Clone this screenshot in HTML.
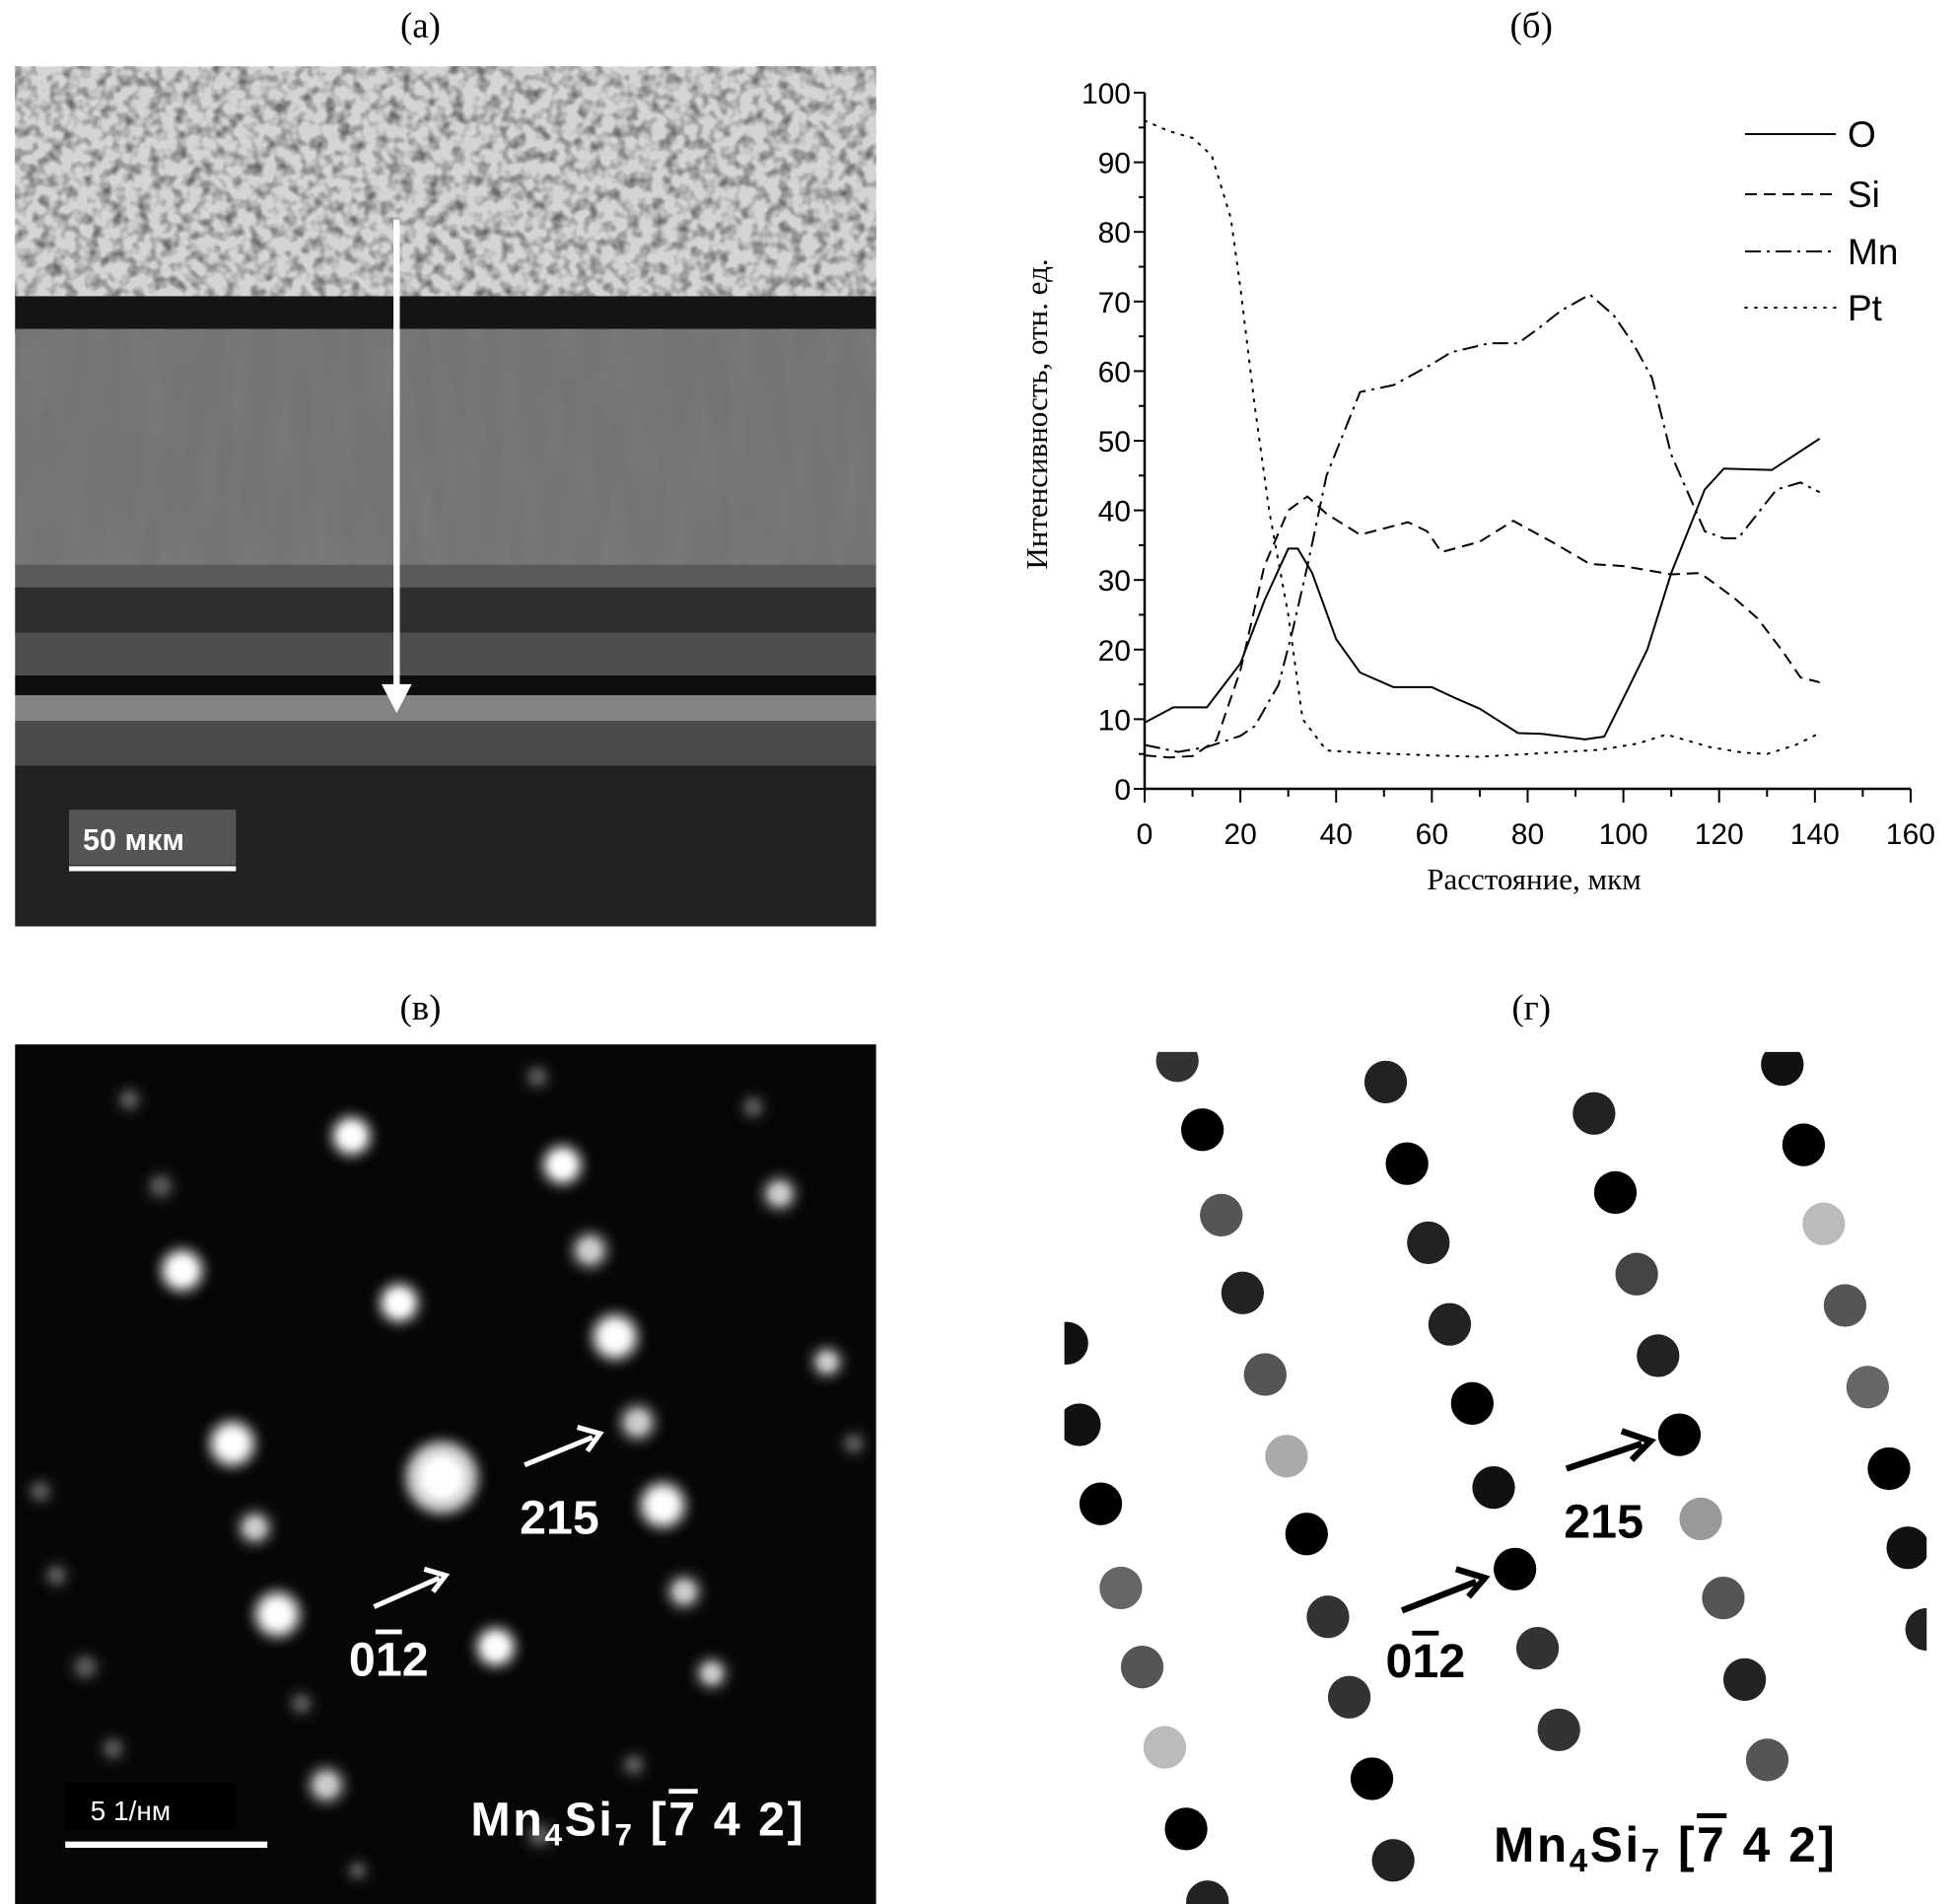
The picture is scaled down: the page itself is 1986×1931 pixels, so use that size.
<!DOCTYPE html>
<html><head><meta charset="utf-8"><style>
html,body{margin:0;padding:0;background:#fff}
svg{display:block}
</style></head><body>
<svg id="s" width="1986" height="1931" viewBox="0 0 1986 1931" xmlns="http://www.w3.org/2000/svg">
<defs>
<filter id="gran" x="0" y="0" width="100%" height="100%">
<feTurbulence type="fractalNoise" baseFrequency="0.1" numOctaves="2" seed="3"/>
<feColorMatrix type="matrix" values="0 0 0 0 0.15  0 0 0 0 0.15  0 0 0 0 0.15  0 0 0 2.4 -1.0"/>
</filter>
<filter id="fib" x="0" y="0" width="100%" height="100%">
<feTurbulence type="fractalNoise" baseFrequency="0.06 0.012" numOctaves="2" seed="5"/>
<feColorMatrix type="matrix" values="0 0 0 0 0.2  0 0 0 0 0.2  0 0 0 0 0.2  0 0 0 1.4 -0.5"/>
</filter>
<filter id="blur3" x="-100%" y="-100%" width="300%" height="300%"><feGaussianBlur stdDeviation="3"/></filter>
<filter id="blur5" x="-100%" y="-100%" width="300%" height="300%"><feGaussianBlur stdDeviation="5"/></filter>
<clipPath id="cpd"><rect x="848" y="838" width="687" height="693"/></clipPath>
</defs>

<g transform="scale(1.2731)" font-family="Liberation Serif, serif">
<text x="335" y="30" font-size="29" text-anchor="middle">(а)</text>
<text x="1220" y="30" font-size="29" text-anchor="middle">(б)</text>
<text x="335" y="812" font-size="29" text-anchor="middle">(в)</text>
<text x="1220" y="812" font-size="29" text-anchor="middle">(г)</text>

<rect x="12" y="53" width="686" height="187" fill="#d4d4d4"/>
<rect x="12" y="53" width="686" height="187" filter="url(#gran)"/>
<rect x="12" y="236" width="686" height="30" fill="#151515"/>
<rect x="12" y="262" width="686" height="190" fill="#747474"/>
<rect x="12" y="262" width="686" height="190" filter="url(#fib)"/>
<rect x="12" y="450" width="686" height="20" fill="#5a5a5a"/>
<rect x="12" y="468" width="686" height="38" fill="#2e2e2e"/>
<rect x="12" y="504" width="686" height="34" fill="#4e4e4e"/>
<rect x="12" y="538" width="686" height="16" fill="#0e0e0e"/>
<rect x="12" y="554" width="686" height="20" fill="#838383"/>
<rect x="12" y="574" width="686" height="38" fill="#4a4a4a"/>
<rect x="12" y="610" width="686" height="128" fill="#222"/>
<line x1="316" y1="175" x2="316" y2="548" stroke="#fff" stroke-width="5"/>
<polygon points="304,545 328,545 316,568" fill="#fff"/>
<rect x="55" y="645" width="133" height="44" fill="#555"/>
<text x="66" y="677" font-family="Liberation Sans, sans-serif" font-weight="bold" font-size="24" fill="#fff">50 мкм</text>
<rect x="55" y="690" width="133" height="4" fill="#fff"/>

<rect x="12" y="832" width="686" height="690" fill="#060606"/>
<g fill="#fff" id="spots"></g>
<g stroke="#fff" stroke-width="4" fill="none">
<line x1="298" y1="1280" x2="350" y2="1257"/><polyline points="338,1250 355,1255 345,1268"/>
<line x1="418" y1="1167" x2="472" y2="1145"/><polyline points="460,1137 478,1142 468,1156"/>
</g>
<g font-family="Liberation Sans, sans-serif" font-weight="bold" fill="#fff">
<text x="414" y="1222" font-size="38">215</text>
<text x="278" y="1335" font-size="38">0<tspan style="text-decoration:overline">1</tspan>2</text>
<rect x="52" y="1420" width="136" height="38" fill="#000"/>
<text x="72" y="1450" font-size="22" font-weight="normal">5 1/нм</text>
<rect x="52" y="1467" width="161" height="5"/>
<text x="375" y="1462" font-size="38" letter-spacing="2">Mn<tspan font-size="25" dy="8">4</tspan><tspan dy="-8">Si</tspan><tspan font-size="25" dy="8">7</tspan><tspan dy="-8"> [</tspan><tspan style="text-decoration:overline">7</tspan> 4 2]</text>
</g>

<g clip-path="url(#cpd)" id="dots"></g>
<g stroke="#000" stroke-width="5" fill="none">
<line x1="1248" y1="1170" x2="1308" y2="1150"/><polyline points="1292,1140 1315,1148 1300,1163"/>
<line x1="1117" y1="1283" x2="1176" y2="1260"/><polyline points="1160,1250 1183,1257 1170,1272"/>
</g>
<g font-family="Liberation Sans, sans-serif" font-weight="bold" fill="#000">
<text x="1246" y="1225" font-size="38">215</text>
<text x="1104" y="1336" font-size="38">0<tspan style="text-decoration:overline">1</tspan>2</text>
<text x="1190" y="1483" font-size="39" letter-spacing="2">Mn<tspan font-size="26" dy="8">4</tspan><tspan dy="-8">Si</tspan><tspan font-size="26" dy="8">7</tspan><tspan dy="-8"> [</tspan><tspan style="text-decoration:overline">7</tspan> 4 2]</text>
</g>
</g>

<g id="chart" font-family="Liberation Sans, sans-serif" font-size="30" fill="#000"></g>
</svg>
<script>
var NS="http://www.w3.org/2000/svg";
function el(p,t,a,txt){var e=document.createElementNS(NS,t);for(var k in a)e.setAttribute(k,a[k]);if(txt!==undefined)e.textContent=txt;p.appendChild(e);return e;}
var sp=[[352,1177,22],[490,1065,14],[528,1199,14],[185,1150,14],[221,1286,14],[395,1312,12],[145,1012,13],[318,1038,12],[280,905,12],[448,928,12],[470,996,11],[508,1133,11],[203,1217,10],[545,1268,10],[621,951,10],[260,1422,11],[567,1333,9],[659,1085,9],[68,1328,8],[128,945,8],[103,876,7],[32,1188,7],[45,1255,7],[90,1393,7],[240,1357,7],[428,858,7],[600,882,7],[680,1150,7],[505,1406,7],[285,1490,6],[430,1462,8]];
var g=document.getElementById("spots");
sp.forEach(function(s){var r=s[2];el(g,"circle",{cx:s[0],cy:s[1],r:r*1.3,fill:r>=12?"#ddd":(r>=9?"#999":"#444"),filter:"url(#blur5)"});el(g,"circle",{cx:s[0],cy:s[1],r:r*0.75,fill:r>=12?"#fff":(r>=9?"#ccc":"#555"),filter:"url(#blur3)"});});
var dd=[[938,845,"#333"],[958,900,"#000"],[973,968,"#555"],[990,1030,"#222"],[1008,1095,"#555"],[1025,1160,"#aaa"],[1041,1222,"#000"],[1058,1288,"#333"],[1075,1352,"#333"],[1093,1417,"#000"],[1110,1482,"#222"],
[1104,862,"#222"],[1121,927,"#000"],[1138,990,"#222"],[1155,1055,"#222"],[1173,1118,"#000"],[1190,1185,"#111"],[1207,1250,"#000"],[1225,1313,"#333"],[1242,1378,"#333"],
[1270,887,"#222"],[1287,950,"#000"],[1304,1015,"#444"],[1321,1080,"#222"],[1338,1143,"#000"],[1355,1210,"#999"],[1373,1273,"#555"],[1390,1338,"#222"],[1408,1402,"#555"],
[1420,848,"#111"],[1437,912,"#000"],[1453,975,"#bbb"],[1470,1040,"#555"],[1488,1105,"#666"],[1505,1170,"#000"],[1520,1233,"#111"],[1535,1298,"#222"],
[850,1070,"#111"],[860,1135,"#111"],[877,1198,"#000"],[893,1265,"#666"],[910,1328,"#555"],[928,1392,"#bbb"],[945,1457,"#000"],[962,1515,"#222"]];
var gd=document.getElementById("dots");
dd.forEach(function(d){el(gd,"circle",{cx:d[0],cy:d[1],r:17,fill:d[2]});});
var c=document.getElementById("chart");
function X(v){return 1161+4.856*v;} function Y(v){return 800-7.06*v;}
el(c,"line",{x1:X(0),y1:Y(100),x2:X(0),y2:Y(0),stroke:"#000","stroke-width":2.5});
el(c,"line",{x1:X(0),y1:Y(0),x2:X(160),y2:Y(0),stroke:"#000","stroke-width":2.5});
for(var v=0;v<=100;v+=5){var maj=v%10==0;el(c,"line",{x1:X(0)-(maj?11:6),y1:Y(v),x2:X(0),y2:Y(v),stroke:"#000","stroke-width":2});if(maj)el(c,"text",{x:X(0)-14,y:Y(v)+11,"text-anchor":"end"},String(v));}
for(var v=0;v<=160;v+=10){var maj=v%20==0;el(c,"line",{x1:X(v),y1:Y(0),x2:X(v),y2:Y(0)+(maj?14:8),stroke:"#000","stroke-width":2});if(maj)el(c,"text",{x:X(v),y:856,"text-anchor":"middle"},String(v));}
el(c,"text",{x:1556,y:902,"text-anchor":"middle","font-family":"Liberation Serif, serif","font-size":31},"Расстояние, мкм");
el(c,"text",{x:0,y:0,"text-anchor":"middle","font-family":"Liberation Serif, serif","font-size":31,transform:"translate(1062,420) rotate(-90)"},"Интенсивность, отн. ед.");
var O=[[0,9.5],[6,11.7],[13,11.7],[20,18],[25,27],[30,34.5],[32,34.5],[35,31],[40,21.5],[45,16.7],[52,14.6],[60,14.6],[65,13],[70,11.5],[78,8],[83,7.9],[92,7.1],[96,7.5],[100,13],[105,20],[110,31],[117,43],[121,46],[131,45.8],[141,50.3]];
var Si=[[0,4.8],[5,4.5],[10,4.7],[15,7],[20,17],[25,32],[30,40],[34,42],[38,39.5],[45,36.5],[55,38.3],[59,37],[62,34],[70,35.5],[77,38.5],[85,35.5],[93,32.3],[100,32],[110,30.8],[116,31],[123,27.5],[128,24.5],[133,20],[137,16],[141,15.3]];
var Mn=[[0,6.3],[7,5.3],[13,6],[20,7.6],[23,9],[28,15],[31,23],[34,32],[38,45],[45,57],[52,58],[60,61],[64,62.7],[72,64],[78,64],[82,66],[87,68.7],[93,71],[98,68],[102,64],[106,59],[110,48],[117,37],[121,36],[124,36],[132,43],[137,44],[141,42.6]];
var Pt=[[0,96],[5,94.5],[10,93.5],[14,91],[18,82],[20,72],[23,55],[26,40],[30,25],[33,10],[38,5.5],[45,5.2],[60,4.8],[70,4.6],[80,5],[95,5.6],[103,6.5],[109,7.8],[118,6],[125,5.2],[130,5],[136,6.3],[141,8]];
function pl(d,dash){el(c,"polyline",{points:d.map(function(p){return X(p[0])+","+Y(p[1]);}).join(" "),fill:"none",stroke:"#000","stroke-width":2,"stroke-dasharray":dash,"stroke-linecap":dash=="2 8"?"round":"butt"});}
pl(O,"none");pl(Si,"12 7");pl(Mn,"16 6 3 6");pl(Pt,"2 8");
var leg=[["O","none",136],["Si","12 7",197],["Mn","16 6 3 6",255],["Pt","2 8",312]];
leg.forEach(function(l){el(c,"line",{x1:1770,y1:l[2],x2:1862,y2:l[2],stroke:"#000","stroke-width":2,"stroke-dasharray":l[1],"stroke-linecap":l[1]=="2 8"?"round":"butt"});el(c,"text",{x:1874,y:l[2]+13,"font-size":37},l[0]);});
</script>
</body></html>
